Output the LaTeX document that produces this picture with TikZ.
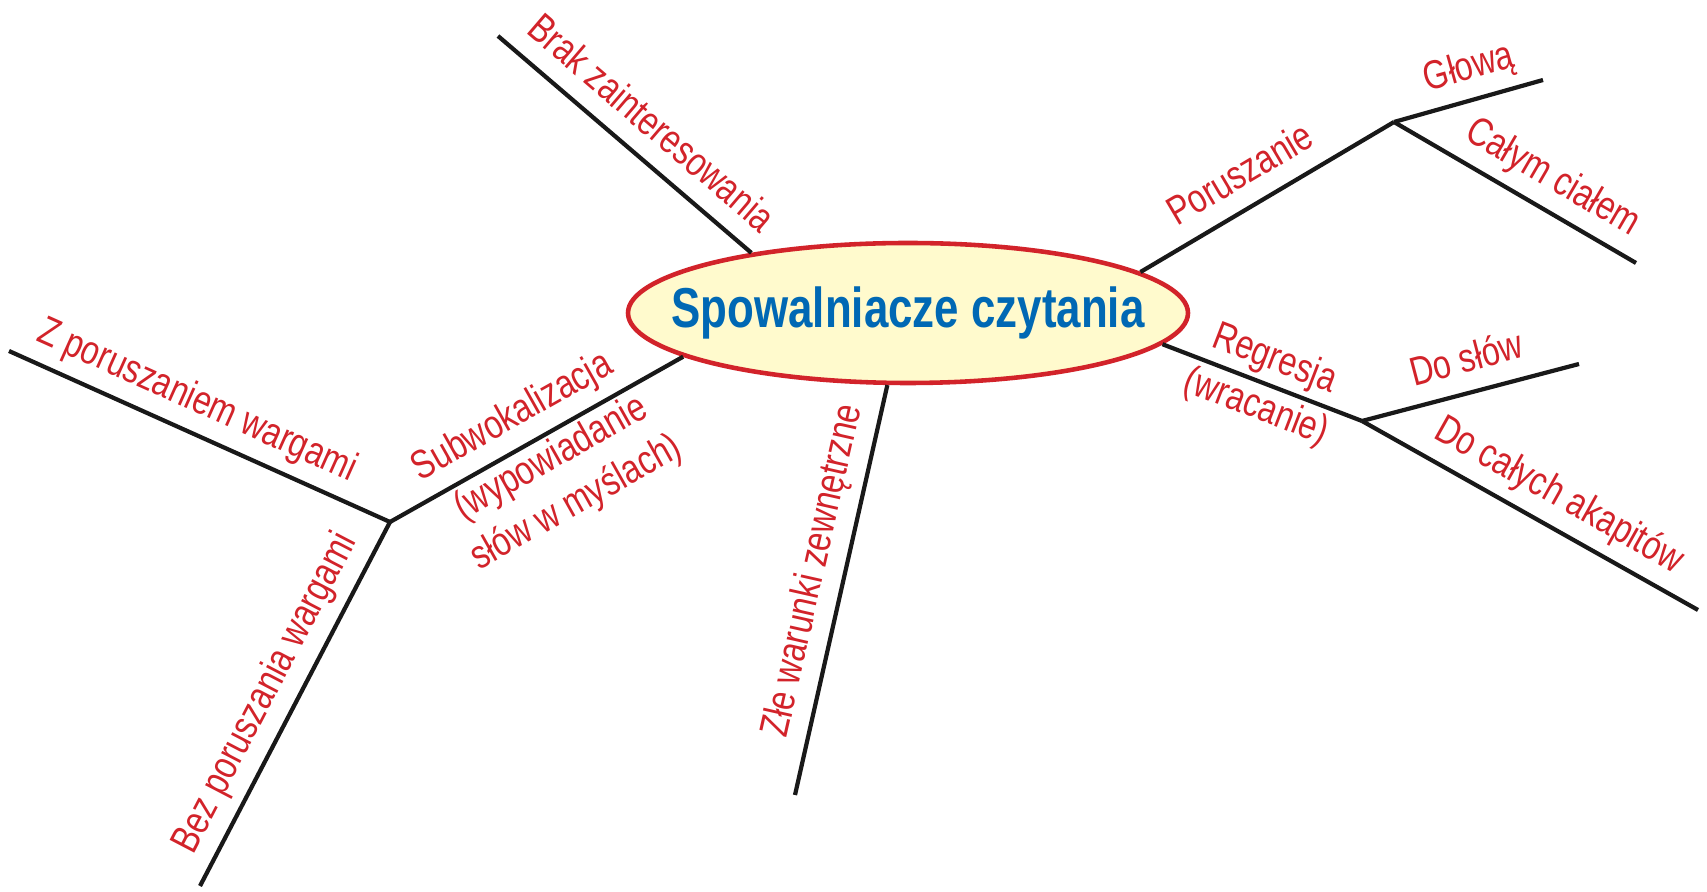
\documentclass[tikz,border=0pt]{standalone}
\usepackage{fontspec}
\usepackage{tikz}
\usetikzlibrary{shapes.geometric}
\newfontfamily\labelfont[FakeStretch=0.8]{Liberation Sans}
\newfontfamily\titlefont[FakeStretch=0.78]{Liberation Sans}
\definecolor{mapred}{RGB}{210,35,42}
\definecolor{mapblue}{RGB}{0,104,180}
\definecolor{mapfill}{RGB}{255,250,205}
\tikzset{
  branch/.style={line width=1.2pt, black!90},
  leaf/.style={font={\labelfont\fontsize{11.5}{14.5}\selectfont}, text=mapred, sloped},
  tag/.style={leaf, above, inner sep=3pt, text depth=2.2pt},
  hub/.style={ellipse, draw=mapred, line width=1.3pt, fill=mapfill,
    minimum width=56mm, minimum height=14mm, inner sep=0pt},
  hubtext/.style={font={\titlefont\bfseries\fontsize{16}{19}\selectfont}, text=mapblue}
}
\newcommand{\branch}[4]{% from, to, pos, text
  \draw[branch] (#1) -- (#2) node[tag, pos=#3] {#4};
}

\begin{document}
\begin{tikzpicture}[x=0.1mm, y=-0.1mm]
    \useasboundingbox (0,0) rectangle (1707,892);

    \node[hub] (spow) at (908,313) {};
    \node[hubtext] (spowtext) at (spow.center) {Spowalniacze czytania};

    % ends and forks of the branches
    \coordinate (brak) at (498,36);
    \coordinate (porj) at (1394,122);
    \coordinate (glowa) at (1543,80);
    \coordinate (cialo) at (1636,263);
    \coordinate (regj) at (1362,421);
    \coordinate (slowa) at (1579,364);
    \coordinate (akap) at (1698,610);
    \coordinate (zle) at (795,795);
    \coordinate (subj) at (390,522);
    \coordinate (zpor) at (9,351);
    \coordinate (bezp) at (200,886);

    \branch{spow.159}{brak}{0.48}{Brak zainteresowania}
    \branch{spow.10}{porj}{0.46}{Poruszanie}
    \branch{porj}{glowa}{0.56}{Głową}
    \branch{porj}{cialo}{0.59}{Całym ciałem}
    \draw[branch] (spow.-7) -- (regj)
      node[leaf, pos=0.515, align=center] {Regresja\\(wracanie)};
    \branch{regj}{slowa}{0.52}{Do słów}
    \branch{regj}{akap}{0.54}{Do całych akapitów}
    \branch{spow.-106}{zle}{0.47}{Złe warunki zewnętrzne}
    \draw[branch] (spow.-169) -- (subj)
      node[tag, pos=0.53] {Subwokalizacja}
      node[leaf, pos=0.49, below, inner sep=1pt, align=center] {(wypowiadanie\\słów w myślach)};
    \branch{zpor}{subj}{0.46}{Z poruszaniem wargami}
    \branch{subj}{bezp}{0.51}{Bez poruszania wargami}
\end{tikzpicture}
\end{document}
